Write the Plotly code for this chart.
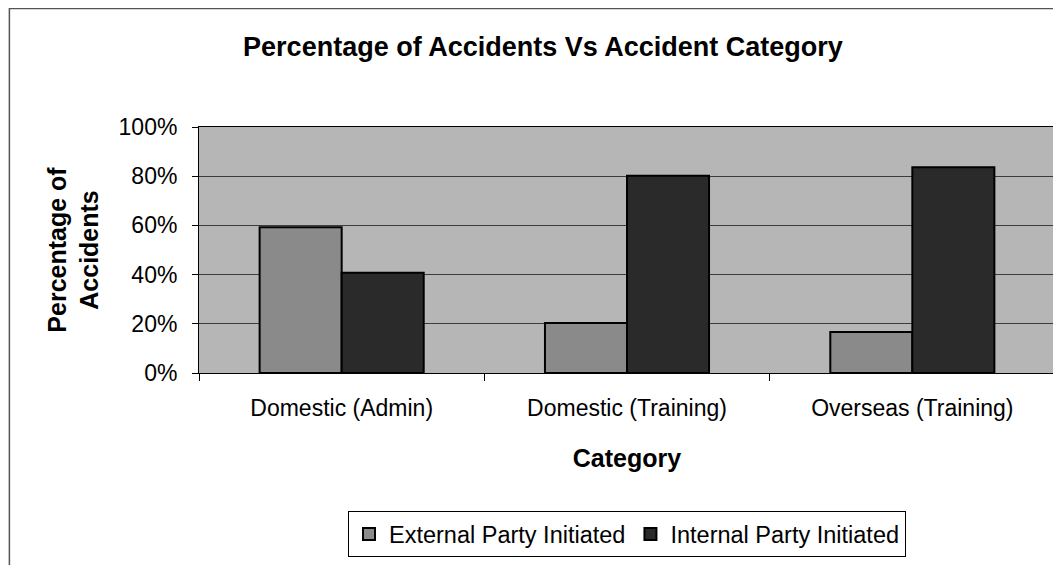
import plotly.graph_objects as go

# values (fraction of accidents)
categories = ["Domestic (Admin)", "Domestic (Training)", "Overseas (Training)"]
external_party = [0.592, 0.203, 0.167]
internal_party = [0.408, 0.802, 0.836]
series_names = ["External Party Initiated", "Internal Party Initiated"]

FONT = "Arial, Liberation Sans, sans-serif"

fig = go.Figure()
fig.add_trace(go.Bar(x=categories, y=external_party, name=series_names[0],
                     marker=dict(color="#8a8a8a", line=dict(color="black", width=2))))
fig.add_trace(go.Bar(x=categories, y=internal_party, name=series_names[1],
                     marker=dict(color="#2a2a2a", line=dict(color="black", width=2))))

# page body has an 8px margin, so the figure is a bit smaller than the window
fig.update_layout(
    width=1053, height=557,
    margin=dict(l=191, r=6, t=119, b=192),
    paper_bgcolor="white",
    plot_bgcolor="#b6b6b6",
    barmode="group",
    bargap=0.425,
    bargroupgap=0,
    font=dict(family=FONT, size=23, color="black"),
    title=dict(text="<b>Percentage of Accidents Vs Accident Category</b>",
               font=dict(size=27, family=FONT, color="black"),
               x=0.508, xref="container", xanchor="center",
               y=0.93, yref="container", yanchor="middle"),
    showlegend=True,
    legend=dict(orientation="h", x=0.5, xanchor="center", y=-0.655, yanchor="middle",
                bordercolor="black", borderwidth=1, bgcolor="white",
                font=dict(size=23.5, family=FONT), itemwidth=30,
                traceorder="normal", tracegroupgap=0),
)

fig.update_xaxes(
    showgrid=False, showline=True, linecolor="black", linewidth=1, mirror=True,
    ticks="outside", tickson="boundaries", ticklen=7, tickcolor="black",
    ticklabelstandoff=14,
    title=dict(text="<b>Category</b>", font=dict(size=25, family=FONT), standoff=29),
)
fig.update_yaxes(
    range=[0, 1], dtick=0.2, tickformat=".0%",
    showgrid=True, gridcolor="#3c3c3c", gridwidth=1,
    showline=True, linecolor="black", linewidth=1, mirror=True,
    ticks="outside", ticklen=6, tickcolor="black",
    ticklabelstandoff=10,
    zeroline=False,
    title=dict(text="<b>Percentage of<br>Accidents</b>", font=dict(size=25, family=FONT), standoff=12),
)

# outer chart border (left and top edges visible in the reference)
fig.add_shape(type="rect", xref="paper", yref="paper",
              x0=-0.2215, x1=1.03, y0=-0.82, y1=1.4817,
              line=dict(color="#555555", width=1.5), fillcolor="rgba(0,0,0,0)", layer="below")

fig.write_html("out.html")
